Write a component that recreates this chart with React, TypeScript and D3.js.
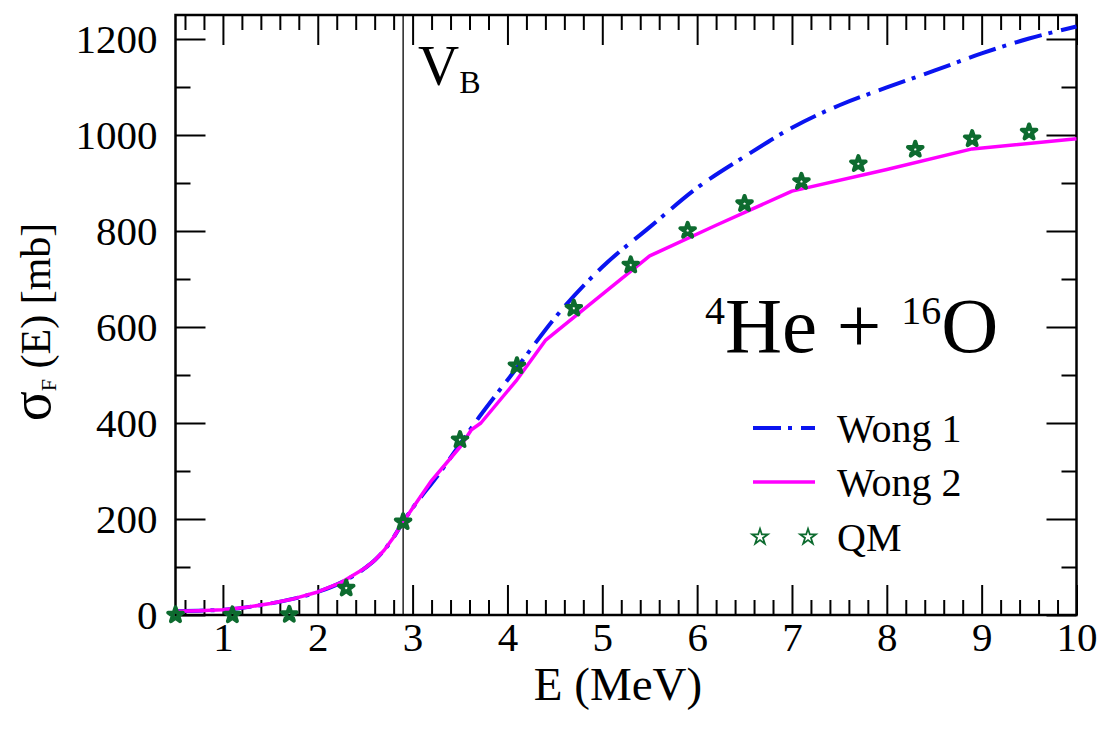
import * as d3 from "d3";
import React, { useEffect, useRef } from "react";

// Energies (MeV) and fusion cross sections (mb) for the two Wong curves
const wong1Energy = [0.5, 1.0, 1.5, 1.75, 2.0, 2.25, 2.5, 2.6, 2.7, 2.8, 2.9, 3.3, 3.7, 4.1, 4.5, 5.0, 5.5, 6.0, 6.5, 7.0, 7.5, 8.0, 8.5, 9.0, 9.5, 10.0];
const wong1 = [8, 11, 24, 34, 48, 68, 98, 114, 135, 162, 194, 300, 412, 515, 619, 725, 808, 890, 955, 1015, 1062, 1099, 1134, 1170, 1201, 1226];

const wong2Energy = [0.5, 0.75, 1.0, 1.25, 1.5, 1.75, 2.0, 2.25, 2.5, 2.6, 2.7, 2.8, 2.9, 3.2, 3.5, 3.62, 3.72, 4.1, 4.4, 5.5, 6.2, 7.0, 8.0, 8.9, 10.0];
const wong2 = [8, 9, 11, 16, 24, 34, 48, 68, 98, 114, 135, 162, 194, 280, 350, 386, 400, 490, 572, 748, 812, 883, 928, 971, 992];

// Quantum-mechanical points
const qmEnergy = [0.5, 1.1, 1.7, 2.3, 2.9, 3.5, 4.1, 4.7, 5.3, 5.9, 6.5, 7.1, 7.7, 8.3, 8.9, 9.5];
const qm = [0, 0, 1, 56, 194, 365, 519, 639, 729, 801, 857, 903, 940, 970, 992, 1006];

// Coulomb barrier
const barrierEnergy = 2.9;

const xTickLabels = [1, 2, 3, 4, 5, 6, 7, 8, 9, 10];
const yTickLabels = [0, 200, 400, 600, 800, 1000, 1200];

const legendLabels = ["Wong 1", "Wong 2", "QM"];

const FONT = "'Liberation Serif', 'Times New Roman', serif";

const Chart = () => {
  const svgRef = useRef<SVGSVGElement>(null);

  useEffect(() => {
    const width = 1103;
    const height = 734;
    const left = 175.5;
    const right = 1076.5;
    const top = 15;
    const bottom = 615;

    const svg = d3.select(svgRef.current).attr("width", width).attr("height", height);
    svg.selectAll("*").remove();

    const x = d3.scaleLinear().domain([0.5, 10]).range([left, right]);
    const y = d3.scaleLinear().domain([0, 1250]).range([bottom, top]);

    const xMinor = d3.range(0.6, 10.001, 0.2).map((v) => +v.toFixed(1)).filter((v) => !xTickLabels.includes(v));
    const yMinor = d3.range(100, 1250, 200);

    // axes with inward ticks on all four sides
    const styleAxis = (g: any) => {
      g.select(".domain").remove();
      g.selectAll("line").attr("stroke", "#000").attr("stroke-width", 2);
      g.selectAll("text").attr("font-family", FONT).attr("font-size", 41).attr("fill", "#000");
    };

    svg.append("g").attr("transform", `translate(0,${bottom})`)
      .call(d3.axisBottom(x).tickValues(xTickLabels).tickSize(-30).tickPadding(7).tickFormat(d3.format("d")))
      .call(styleAxis);
    svg.append("g").attr("transform", `translate(0,${bottom})`)
      .call(d3.axisBottom(x).tickValues(xMinor).tickSize(-15).tickFormat(() => ""))
      .call(styleAxis);
    svg.append("g").attr("transform", `translate(0,${top})`)
      .call(d3.axisTop(x).tickValues(xTickLabels).tickSize(-30).tickFormat(() => ""))
      .call(styleAxis);
    svg.append("g").attr("transform", `translate(0,${top})`)
      .call(d3.axisTop(x).tickValues(xMinor).tickSize(-15).tickFormat(() => ""))
      .call(styleAxis);

    svg.append("g").attr("transform", `translate(${left},0)`)
      .call(d3.axisLeft(y).tickValues(yTickLabels).tickSize(-30).tickPadding(18).tickFormat(d3.format("d")))
      .call(styleAxis);
    svg.append("g").attr("transform", `translate(${left},0)`)
      .call(d3.axisLeft(y).tickValues(yMinor).tickSize(-15).tickFormat(() => ""))
      .call(styleAxis);
    svg.append("g").attr("transform", `translate(${right},0)`)
      .call(d3.axisRight(y).tickValues(yTickLabels).tickSize(-30).tickFormat(() => ""))
      .call(styleAxis);
    svg.append("g").attr("transform", `translate(${right},0)`)
      .call(d3.axisRight(y).tickValues(yMinor).tickSize(-15).tickFormat(() => ""))
      .call(styleAxis);

    // frame
    svg.append("rect")
      .attr("x", left).attr("y", top)
      .attr("width", right - left).attr("height", bottom - top)
      .attr("fill", "none").attr("stroke", "#000").attr("stroke-width", 2.5);

    // barrier line
    svg.append("line")
      .attr("x1", x(barrierEnergy)).attr("x2", x(barrierEnergy))
      .attr("y1", top).attr("y2", bottom)
      .attr("stroke", "#000").attr("stroke-width", 1.3);

    const vb = svg.append("text")
      .attr("x", x(barrierEnergy) + 15).attr("y", 85)
      .attr("font-family", FONT).attr("font-size", 57);
    vb.append("tspan").text("V");
    vb.append("tspan").attr("font-size", 32).attr("dy", 8).text("B");

    const smooth = d3.line<[number, number]>()
      .x((d) => x(d[0]))
      .y((d) => y(d[1]))
      .curve(d3.curveMonotoneX);

    const straight = d3.line<[number, number]>()
      .x((d) => x(d[0]))
      .y((d) => y(d[1]));

    svg.append("path")
      .datum(wong1Energy.map((e, i) => [e, wong1[i]] as [number, number]))
      .attr("fill", "none").attr("stroke", "#0a14f0").attr("stroke-width", 4)
      .attr("stroke-dasharray", "28,7,4,9")
      .attr("d", smooth);

    svg.append("path")
      .datum(wong2Energy.map((e, i) => [e, wong2[i]] as [number, number]))
      .attr("fill", "none").attr("stroke", "#ff00ff").attr("stroke-width", 3.5)
      .attr("stroke-linejoin", "round")
      .attr("d", straight);

    const star = d3.symbol().type(d3.symbolStar);

    svg.append("g").selectAll("path")
      .data(qmEnergy.map((e, i) => [e, qm[i]]))
      .join("path")
      .attr("transform", (d) => `translate(${x(d[0])},${y(d[1])})`)
      .attr("d", star.size(66)())
      .attr("fill", "none").attr("stroke", "#0d6b2f").attr("stroke-width", 4)
      .attr("stroke-linejoin", "round");

    // reaction label
    const title = svg.append("text")
      .attr("x", 705).attr("y", 352)
      .attr("font-family", FONT).attr("font-size", 79);
    title.append("tspan").attr("font-size", 40).attr("dy", -28).text("4");
    title.append("tspan").attr("dy", 28).text("He + ");
    title.append("tspan").attr("font-size", 40).attr("dy", -28).text("16");
    title.append("tspan").attr("dy", 28).text("O");

    // legend
    const legend = svg.append("g");
    const rows = [428, 482, 537];
    legend.append("line")
      .attr("x1", 753).attr("x2", 815).attr("y1", rows[0]).attr("y2", rows[0])
      .attr("stroke", "#0a14f0").attr("stroke-width", 4).attr("stroke-dasharray", "28,7,4,9");
    legend.append("line")
      .attr("x1", 753).attr("x2", 815).attr("y1", rows[1]).attr("y2", rows[1])
      .attr("stroke", "#ff00ff").attr("stroke-width", 3.5);
    legend.selectAll("path.key")
      .data([760, 808])
      .join("path")
      .attr("class", "key")
      .attr("transform", (d) => `translate(${d},${rows[2]})`)
      .attr("d", star.size(75)())
      .attr("fill", "none").attr("stroke", "#0d6b2f").attr("stroke-width", 1.8);
    legend.selectAll("text")
      .data(legendLabels)
      .join("text")
      .attr("x", 837).attr("y", (d, i) => rows[i] + 14)
      .attr("font-family", FONT).attr("font-size", 40)
      .text((d) => d);

    // axis titles
    svg.append("text")
      .attr("x", 618).attr("y", 700)
      .attr("text-anchor", "middle")
      .attr("font-family", FONT).attr("font-size", 47)
      .text("E (MeV)");

    const yTitle = svg.append("text")
      .attr("transform", "translate(50,322) rotate(-90)")
      .attr("text-anchor", "middle")
      .attr("font-family", FONT).attr("font-size", 42);
    yTitle.append("tspan").attr("font-size", 56).text("σ");
    yTitle.append("tspan").attr("font-size", 22).attr("dy", 6).text("F");
    yTitle.append("tspan").attr("dy", -6).text(" (E) [mb]");
  }, []);

  return <svg ref={svgRef} style={{ position: "absolute", left: 0, top: 0, background: "#fff" }}></svg>;
};

export default function App() {
  return <Chart />;
}
